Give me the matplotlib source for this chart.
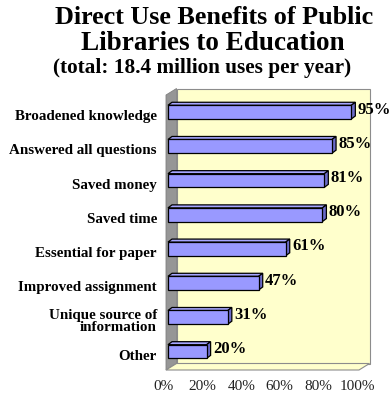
import matplotlib
matplotlib.use("Agg")
import matplotlib.pyplot as plt
from matplotlib.patches import Polygon
from matplotlib.transforms import ScaledTranslation

categories = [
    "Broadened knowledge",
    "Answered all questions",
    "Saved money",
    "Saved time",
    "Essential for paper",
    "Improved assignment",
    "Unique source of\ninformation",
    "Other",
]
values = [95, 85, 81, 80, 61, 47, 31, 20]
value_labels = ["95%", "85%", "81%", "80%", "61%", "47%", "31%", "20%"]
tick_values = [0, 20, 40, 60, 80, 100]
tick_labels = ["0%", "20%", "40%", "60%", "80%", "100%"]

title_line1 = "Direct Use Benefits of Public"
title_line2 = "Libraries to Education"
subtitle = "(total: 18.4 million uses per year)"

SERIF = ["Liberation Serif", "DejaVu Serif"]
DPI = 100
W, H = 392, 395

fig = plt.figure(figsize=(W / DPI, H / DPI), dpi=DPI)
fig.patch.set_facecolor("white")

# front plane of the 3-D plot box, in pixels
left_px, right_px = 166, 359
top_px, bottom_px = 95, 370
ax = fig.add_axes([left_px / W, 1 - bottom_px / H,
                   (right_px - left_px) / W, (bottom_px - top_px) / H])
ax.set_xlim(0, 100)
ax.set_ylim(7.54, -0.5)
ax.set_facecolor("none")
for s in ax.spines.values():
    s.set_visible(False)


def shifted(dx_px, dy_px):
    """Data transform shifted by a pixel offset (dy positive = up)."""
    return ax.transData + ScaledTranslation(dx_px / DPI, dy_px / DPI,
                                            fig.dpi_scale_trans)


def shifted_axes(dx_px, dy_px):
    return ax.transAxes + ScaledTranslation(dx_px / DPI, dy_px / DPI,
                                            fig.dpi_scale_trans)


# depth of the walls
WDX, WDY = 10.5, 6.5
edge = "#8c8c8c"

# back wall
back = Polygon([(0, 0), (1, 0), (1, 1), (0, 1)], closed=True,
               transform=shifted_axes(WDX, WDY), facecolor="#FFFFCC",
               edgecolor=edge, lw=0.8, zorder=0, clip_on=False)
ax.add_patch(back)

# side wall (left)
px = lambda v: v / (right_px - left_px)  # pixel -> axes fraction (x)
py = lambda v: v / (bottom_px - top_px)  # pixel -> axes fraction (y)
side = Polygon([(0, 0), (px(WDX), py(WDY)), (px(WDX), 1 + py(WDY)), (0, 1)],
               closed=True, transform=ax.transAxes, facecolor="#969696",
               edgecolor="#808080", lw=0.6, zorder=1, clip_on=False)
ax.add_patch(side)

# floor
floor = Polygon([(0, 0), (1, 0), (1 + px(WDX), py(WDY)), (px(WDX), py(WDY))],
                closed=True, transform=ax.transAxes, facecolor="#FFFFCC",
                edgecolor=edge, lw=0.8, zorder=1, clip_on=False)
ax.add_patch(floor)

# 3-D bars
BX = 2.0          # bar front face offset to the right (px)
BDX, BDY = 4.0, 3.0  # bar depth (px)
half = 0.2
face_c, top_c, side_c = "#9999FF", "#A6A6FF", "#6B6BC8"
for i, v in enumerate(values):
    y0, y1 = i + half, i - half
    tr_front = shifted(BX, 0)
    tr_back = shifted(BX + BDX, BDY)
    # front face
    ax.add_patch(Polygon([(0, y0), (v, y0), (v, y1), (0, y1)], closed=True,
                         transform=tr_front, facecolor=face_c,
                         edgecolor="black", lw=0.9, zorder=4, clip_on=False))
    # top face: front-top edge to back-top edge
    ft = [tr_front.transform((0, y1)), tr_front.transform((v, y1))]
    bt = [tr_back.transform((v, y1)), tr_back.transform((0, y1))]
    ax.add_patch(Polygon(ft + bt, closed=True, transform=None,
                         facecolor=top_c, edgecolor="black", lw=0.9,
                         zorder=3, clip_on=False))
    # right side face
    fs = [tr_front.transform((v, y1)), tr_front.transform((v, y0))]
    bs = [tr_back.transform((v, y0)), tr_back.transform((v, y1))]
    ax.add_patch(Polygon(fs + bs, closed=True, transform=None,
                         facecolor=side_c, edgecolor="black", lw=0.9,
                         zorder=3, clip_on=False))
    # value label
    ax.text(v, i, value_labels[i], transform=shifted(BX + BDX + 2.5, 2.5),
            ha="left", va="center", fontsize=12, fontweight="bold",
            family=SERIF, zorder=5, clip_on=False)

# category axis labels
ax.set_yticks(range(len(categories)))
ax.set_yticklabels(categories, fontsize=10.8, fontweight="bold", family=SERIF,
                   linespacing=0.9)
ax.tick_params(axis="y", length=0, pad=6.5)
for lab in ax.get_yticklabels():
    lab.set_transform(lab.get_transform() +
                      ScaledTranslation(0, -3 / DPI, fig.dpi_scale_trans))

# value axis labels
ax.set_xticks(tick_values)
ax.set_xticklabels(tick_labels, fontsize=11, family=SERIF, color="#222222")
ax.tick_params(axis="x", length=0, pad=7.5)
for lab in ax.get_xticklabels():
    lab.set_transform(lab.get_transform() +
                      ScaledTranslation(-2 / DPI, 0, fig.dpi_scale_trans))

# titles
fig.text(214 / W, 1 - 18 / H, title_line1, ha="center", va="center",
         fontsize=18.8, fontweight="bold", family=SERIF)
fig.text(213 / W, 1 - 43 / H, title_line2, ha="center", va="center",
         fontsize=19.5, fontweight="bold", family=SERIF)
fig.text(202 / W, 1 - 68 / H, subtitle, ha="center", va="center",
         fontsize=15.3, fontweight="bold", family=SERIF)

fig.savefig("out.png", dpi=DPI)
